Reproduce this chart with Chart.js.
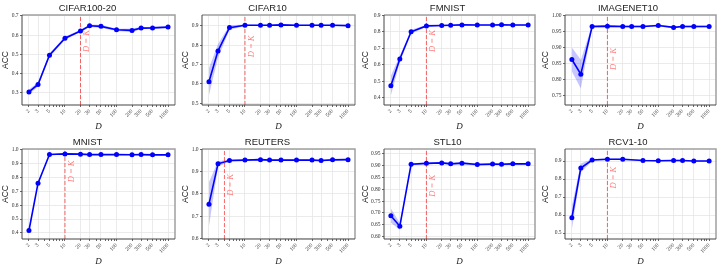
<!DOCTYPE html>
<html>
<head>
<meta charset="utf-8">
<script src="https://cdn.jsdelivr.net/npm/chart.js@4.4.0/dist/chart.umd.min.js"></script>
<style>
  html, body { margin: 0; padding: 0; background: #fff; }
  #wrap { position: relative; width: 721px; height: 269px; }
  canvas { position: absolute; }
</style>
</head>
<body>
<div id="wrap">
  <canvas id="c1" width="180" height="134" style="left:0px;top:0px"></canvas>
  <canvas id="c2" width="180" height="134" style="left:180px;top:0px"></canvas>
  <canvas id="c3" width="180" height="134" style="left:360px;top:0px"></canvas>
  <canvas id="c4" width="181" height="134" style="left:540px;top:0px"></canvas>
  <canvas id="c5" width="180" height="135" style="left:0px;top:134px"></canvas>
  <canvas id="c6" width="180" height="135" style="left:180px;top:134px"></canvas>
  <canvas id="c7" width="180" height="135" style="left:360px;top:134px"></canvas>
  <canvas id="c8" width="181" height="135" style="left:540px;top:134px"></canvas>
</div>
<script>
// x axis: latent dimension D
var dims = [2, 3, 5, 10, 20, 30, 50, 100, 200, 300, 500, 1000];
var dimsRcv = [2, 3, 5, 10, 20, 50, 100, 200, 300, 500, 1000];
var xTickLabels = ['2', '3', '5', '10', '20', '30', '50', '100', '200', '300', '500', '1000'];

// CIFAR100-20
var cifar100Acc = [0.305, 0.344, 0.496, 0.584, 0.622, 0.649, 0.646, 0.628, 0.625, 0.637, 0.638, 0.642];
var cifar100Std = [0.012, 0.012, 0.010, 0.008, 0.006, 0.006, 0.008, 0.006, 0.010, 0.006, 0.005, 0.005];
var cifar100Ticks = ['0.3', '0.4', '0.5', '0.6', '0.7'];

// CIFAR10
var cifar10Acc = [0.611, 0.770, 0.890, 0.902, 0.902, 0.902, 0.904, 0.902, 0.902, 0.902, 0.902, 0.900];
var cifar10Std = [0.070, 0.035, 0.012, 0.004, 0.003, 0.003, 0.003, 0.003, 0.003, 0.003, 0.003, 0.003];
var cifar10Ticks = ['0.5', '0.6', '0.7', '0.8', '0.9'];

// FMNIST
var fmnistAcc = [0.473, 0.635, 0.800, 0.836, 0.838, 0.840, 0.842, 0.841, 0.841, 0.843, 0.841, 0.841];
var fmnistStd = [0.060, 0.020, 0.012, 0.006, 0.004, 0.004, 0.004, 0.004, 0.004, 0.004, 0.004, 0.004];
var fmnistTicks = ['0.4', '0.5', '0.6', '0.7', '0.8', '0.9'];

// IMAGENET10
var imagenetAcc = [0.862, 0.816, 0.966, 0.967, 0.966, 0.966, 0.966, 0.969, 0.963, 0.966, 0.966, 0.966];
var imagenetStd = [0.038, 0.045, 0.004, 0.003, 0.003, 0.003, 0.003, 0.003, 0.003, 0.003, 0.003, 0.003];
var imagenetTicks = ['0.75', '0.80', '0.85', '0.90', '0.95', '1.00'];

// MNIST
var mnistAcc = [0.418, 0.757, 0.963, 0.967, 0.965, 0.962, 0.962, 0.962, 0.961, 0.962, 0.960, 0.960];
var mnistStd = [0.008, 0.010, 0.004, 0.003, 0.003, 0.003, 0.003, 0.003, 0.003, 0.003, 0.003, 0.003];
var mnistTicks = ['0.4', '0.5', '0.6', '0.7', '0.8', '0.9', '1.0'];

// REUTERS
var reutersAcc = [0.754, 0.936, 0.951, 0.953, 0.955, 0.953, 0.953, 0.953, 0.953, 0.951, 0.954, 0.955];
var reutersStd = [0.100, 0.012, 0.005, 0.004, 0.004, 0.004, 0.004, 0.004, 0.004, 0.004, 0.004, 0.004];
var reutersTicks = ['0.6', '0.7', '0.8', '0.9', '1.0'];

// STL10
var stlAcc = [0.688, 0.643, 0.906, 0.910, 0.912, 0.908, 0.911, 0.905, 0.907, 0.906, 0.908, 0.908];
var stlStd = [0.030, 0.015, 0.004, 0.004, 0.004, 0.004, 0.004, 0.005, 0.004, 0.004, 0.004, 0.004];
var stlTicks = ['0.60', '0.65', '0.70', '0.75', '0.80', '0.85', '0.90', '0.95'];

// RCV1-10
var rcvAcc = [0.585, 0.861, 0.906, 0.910, 0.910, 0.903, 0.902, 0.903, 0.903, 0.900, 0.900];
var rcvStd = [0.065, 0.025, 0.006, 0.004, 0.004, 0.004, 0.004, 0.004, 0.004, 0.004, 0.004];
var rcvTicks = ['0.5', '0.6', '0.7', '0.8', '0.9'];

var panels = [
  { id: 'c1', title: 'CIFAR100-20', d: dims, acc: cifar100Acc, std: cifar100Std, ticks: cifar100Ticks, k: 20, ymin: 0.237, ymax: 0.705, left: 22, lab: 0.41 },
  { id: 'c2', title: 'CIFAR10', d: dims, acc: cifar10Acc, std: cifar10Std, ticks: cifar10Ticks, k: 10, ymin: 0.491, ymax: 0.955, left: 22, lab: 0.47 },
  { id: 'c3', title: 'FMNIST', d: dims, acc: fmnistAcc, std: fmnistStd, ticks: fmnistTicks, k: 10, ymin: 0.356, ymax: 0.902, left: 24, lab: 0.41 },
  { id: 'c4', title: 'IMAGENET10', d: dims, acc: imagenetAcc, std: imagenetStd, ticks: imagenetTicks, k: 10, ymin: 0.719, ymax: 1.002, left: 25, lab: 0.61 },
  { id: 'c5', title: 'MNIST', d: dims, acc: mnistAcc, std: mnistStd, ticks: mnistTicks, k: 10, ymin: 0.357, ymax: 1.002, left: 22, lab: 0.37 },
  { id: 'c6', title: 'REUTERS', d: dims, acc: reutersAcc, std: reutersStd, ticks: reutersTicks, k: 4, ymin: 0.597, ymax: 1.003, left: 22, lab: 0.52 },
  { id: 'c7', title: 'STL10', d: dims, acc: stlAcc, std: stlStd, ticks: stlTicks, k: 10, ymin: 0.589, ymax: 0.971, left: 24, lab: 0.53 },
  { id: 'c8', title: 'RCV1-10', d: dimsRcv, acc: rcvAcc, std: rcvStd, ticks: rcvTicks, k: 10, ymin: 0.467, ymax: 0.967, left: 25, lab: 0.44 }
];

// log minor ticks (2..9 x 10^n) that are not labelled
var xMinor = [];
[1, 10, 100].forEach(function(e) {
  for (var m = 2; m <= 9; m++) {
    if (dims.indexOf(m * e) < 0) xMinor.push(m * e);
  }
});
var xAllTicks = dims.concat(xMinor).sort(function(a, b) { return a - b; });

// frame around the plot area
var framePlugin = {
  id: 'frame',
  afterDatasetsDraw: function(chart) {
    var c = chart.ctx, a = chart.chartArea;
    c.save();
    c.strokeStyle = '#a0a0a0';
    c.lineWidth = 1.5;
    c.beginPath();
    c.moveTo(a.left, a.top); c.lineTo(a.right, a.top); c.lineTo(a.right, a.bottom);
    c.stroke();
    c.strokeStyle = '#444';
    c.lineWidth = 1;
    c.beginPath();
    c.moveTo(a.left, a.top); c.lineTo(a.left, a.bottom); c.lineTo(a.right, a.bottom);
    c.stroke();
    c.restore();
  }
};

// "D = K" note next to the red line
var dkPlugin = {
  id: 'dk',
  afterDatasetsDraw: function(chart, args, opts) {
    var c = chart.ctx, a = chart.chartArea;
    var x = chart.scales.x.getPixelForValue(opts.k) + 6.5;
    var y = a.top + opts.frac * (a.bottom - a.top);
    c.save();
    c.translate(x, y);
    c.rotate(-Math.PI / 2);
    c.font = 'italic 8.5px "Liberation Serif"';
    c.fillStyle = 'rgba(255, 0, 0, 0.55)';
    c.textAlign = 'left';
    c.textBaseline = 'middle';
    c.fillText('D = K', 0, 0);
    c.restore();
  }
};

panels.forEach(function(p) {
  var canvas = document.getElementById(p.id);
  var H = canvas.height;
  var yVals = p.ticks.map(parseFloat);

  var mean = p.d.map(function(v, i) { return { x: v, y: p.acc[i] }; });
  var upper = p.d.map(function(v, i) { return { x: v, y: p.acc[i] + p.std[i] }; });
  var lower = p.d.map(function(v, i) { return { x: v, y: p.acc[i] - p.std[i] }; });
  var vline = [{ x: p.k, y: p.ymin }, { x: p.k, y: p.ymax }];

  new Chart(canvas.getContext('2d'), {
    type: 'line',
    data: {
      datasets: [
        {
          data: mean,
          borderColor: '#0000ff',
          backgroundColor: '#0000ff',
          borderWidth: 1.6,
          pointRadius: 2.5,
          pointBorderWidth: 0,
          tension: 0
        },
        {
          data: vline,
          borderColor: 'rgba(255, 0, 0, 0.6)',
          borderWidth: 1,
          borderDash: [4, 2],
          pointRadius: 0
        },
        {
          data: upper,
          borderWidth: 0,
          pointRadius: 0,
          fill: false
        },
        {
          data: lower,
          borderWidth: 0,
          pointRadius: 0,
          backgroundColor: 'rgba(0, 0, 255, 0.22)',
          fill: '-1'
        }
      ]
    },
    options: {
      responsive: false,
      animation: false,
      devicePixelRatio: 1,
      layout: { padding: { left: 0, right: 5, top: 0, bottom: 0 } },
      plugins: {
        legend: { display: false },
        tooltip: { enabled: false },
        title: {
          display: true,
          text: p.title,
          color: '#222',
          font: { family: 'Liberation Sans', size: 9.5, weight: 'normal' },
          padding: { top: 2.5, bottom: 1.1 }
        },
        dk: { k: p.k, frac: p.lab }
      },
      scales: {
        x: {
          type: 'logarithmic',
          min: 1.466,
          max: 1364,
          afterBuildTicks: function(scale) {
            scale.ticks = xAllTicks.map(function(v) { return { value: v }; });
          },
          afterFit: function(scale) { scale.height = H - 105; },
          border: { display: false },
          grid: {
            color: function(ctx) {
              return ctx.tick && dims.indexOf(ctx.tick.value) >= 0 ? '#e6e6e6' : 'rgba(0,0,0,0)';
            },
            lineWidth: 0.8,
            tickColor: '#444',
            tickLength: 2
          },
          ticks: {
            autoSkip: false,
            maxRotation: 45,
            minRotation: 45,
            padding: 1,
            color: '#333',
            font: { family: 'Liberation Serif', size: 5.5 },
            labelOffset: function(ctx) {
              if (!ctx.tick) return 0;
              var i = dims.indexOf(ctx.tick.value);
              return i >= 0 ? xTickLabels[i].length * 1.0 + 0.5 : 0;
            },
            callback: function(value) {
              var i = dims.indexOf(value);
              return i >= 0 ? xTickLabels[i] : '';
            }
          },
          title: {
            display: true,
            text: 'D',
            color: '#222',
            font: { family: 'Liberation Serif', size: 9, style: 'italic' },
            padding: { top: 0, bottom: 2 }
          }
        },
        y: {
          min: p.ymin,
          max: p.ymax,
          afterBuildTicks: function(scale) {
            scale.ticks = yVals.map(function(v) { return { value: v }; });
          },
          afterFit: function(scale) { scale.width = p.left; },
          border: { display: false },
          grid: {
            color: '#e6e6e6',
            lineWidth: 0.8,
            tickColor: '#444',
            tickLength: 2
          },
          ticks: {
            padding: 1.5,
            color: '#333',
            font: { family: 'Liberation Serif', size: 5.5 },
            callback: function(value) {
              var i = yVals.indexOf(value);
              return i >= 0 ? p.ticks[i] : '';
            }
          },
          title: {
            display: true,
            text: 'ACC',
            color: '#222',
            font: { family: 'Liberation Sans', size: 8.5 },
            padding: { top: 1, bottom: 0 }
          }
        }
      }
    },
    plugins: [framePlugin, dkPlugin]
  });
});
</script>
</body>
</html>
